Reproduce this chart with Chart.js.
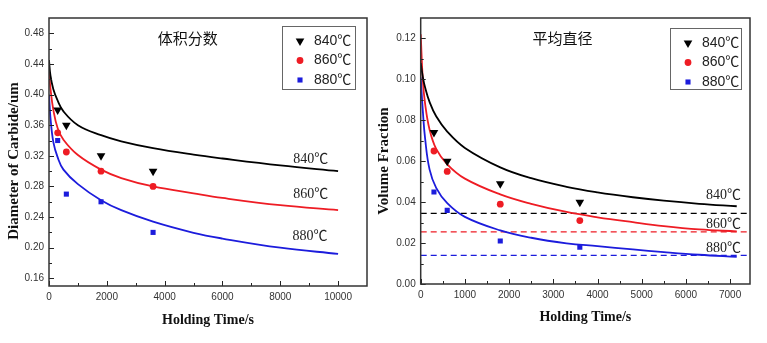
<!DOCTYPE html>
<html>
<head>
<meta charset="utf-8">
<script src="https://cdn.jsdelivr.net/npm/chart.js@4.4.1/dist/chart.umd.min.js"></script>
<style>
  html, body { margin: 0; padding: 0; background: #fff; }
  #wrap { position: relative; width: 767px; height: 343px; }
  #wrap canvas { position: absolute; top: 0; }
</style>
</head>
<body>
<div id="wrap">
  <canvas id="diameterChart" width="372" height="343" style="left:0"></canvas>
  <canvas id="fractionChart" width="395" height="343" style="left:372px"></canvas>
</div>
<script>
// temperatures
var tempLabels = ['840℃', '860℃', '880℃'];
var tempColors = ['#000000', '#ee1c24', '#1c1cdc'];
var tempStyles = ['triangle', 'circle', 'rect'];

// measured holding times (s)
var sampleTime = [300, 600, 1800, 3600];

// carbide diameter (um)
var dia840 = [0.38, 0.36, 0.32, 0.30];
var dia860 = [0.35, 0.325, 0.30, 0.28];
var dia880 = [0.34, 0.27, 0.26, 0.22];

// fitted diameter curves
var diaFitTime = [0, 50, 150, 300, 500, 1000, 1800, 2500, 3600, 5000, 6000, 8000, 10000];
var diaFit840 = [0.445, 0.425, 0.407, 0.392, 0.378, 0.360, 0.347, 0.339, 0.330, 0.3215, 0.3165, 0.3075, 0.300];
var diaFit860 = [0.430, 0.408, 0.380, 0.356, 0.341, 0.321, 0.302, 0.291, 0.280, 0.271, 0.265, 0.2555, 0.249];
var diaFit880 = [0.400, 0.370, 0.338, 0.318, 0.302, 0.283, 0.262, 0.249, 0.234, 0.2195, 0.212, 0.200, 0.192];

// carbide volume fraction
var vf840 = [0.074, 0.060, 0.049, 0.040];
var vf860 = [0.065, 0.055, 0.039, 0.031];
var vf880 = [0.045, 0.036, 0.021, 0.018];

// fitted volume fraction curves
var vfFitTime = [0, 50, 100, 200, 350, 600, 1000, 1800, 2500, 3300, 4000, 4800, 5500, 6300, 7150];
var vfFit840 = [0.108, 0.101, 0.096, 0.089, 0.082, 0.0745, 0.0665, 0.057, 0.0517, 0.0475, 0.0448, 0.0424, 0.0407, 0.0392, 0.038];
var vfFit860 = [0.122, 0.099, 0.088, 0.0755, 0.066, 0.0585, 0.0515, 0.0438, 0.0392, 0.0352, 0.0326, 0.0302, 0.0283, 0.0267, 0.0257];
var vfFit880 = [0.101, 0.084, 0.071, 0.056, 0.047, 0.0395, 0.0328, 0.0262, 0.0226, 0.0199, 0.0185, 0.0169, 0.0156, 0.0143, 0.0133];

// equilibrium volume fraction levels
var vfLevels = [0.0345, 0.0255, 0.014];

// tick values
var diaXTicks = [0, 2000, 4000, 6000, 8000, 10000];
var diaXMinor = [1000, 3000, 5000, 7000, 9000];
var diaYTicks = [0.16, 0.20, 0.24, 0.28, 0.32, 0.36, 0.40, 0.44, 0.48];
var diaYMinor = [0.18, 0.22, 0.26, 0.30, 0.34, 0.38, 0.42, 0.46];
var vfXTicks = [0, 1000, 2000, 3000, 4000, 5000, 6000, 7000];
var vfXMinor = [500, 1500, 2500, 3500, 4500, 5500, 6500];
var vfYTicks = [0.00, 0.02, 0.04, 0.06, 0.08, 0.10, 0.12];
var vfYMinor = [0.01, 0.03, 0.05, 0.07, 0.09, 0.11];

function toPoints(xs, ys) {
    return xs.map(function(x, i) { return { x: x, y: ys[i] }; });
}

function sampleSet(values, i) {
    return {
        label: tempLabels[i],
        data: toPoints(sampleTime, values),
        showLine: false,
        pointStyle: tempStyles[i],
        pointRotation: i === 0 ? 180 : 0,
        pointRadius: i === 0 ? 5 : (i === 2 ? 3.6 : 3.4),
        pointBackgroundColor: tempColors[i],
        pointBorderWidth: 0,
        order: 0
    };
}

function fitSet(xs, values, i) {
    return {
        data: toPoints(xs, values),
        borderColor: tempColors[i],
        borderWidth: 1.8,
        pointRadius: 0,
        tension: 0.4,
        order: 1
    };
}

// draws a point marker the same way the datasets do
function marker(ctx, i, x, y) {
    ctx.fillStyle = tempColors[i];
    Chart.helpers.drawPoint(ctx, {
        pointStyle: tempStyles[i],
        rotation: i === 0 ? 180 : 0,
        radius: i === 0 ? 5 : (i === 2 ? 3.6 : 3.4),
        borderWidth: 0
    }, x, y);
}

// frame, inward ticks, titles, curve labels and legend box
var decorations = {
    id: 'decorations',
    afterDatasetsDraw: function(chart, args, opts) {
        var ctx = chart.ctx;
        var a = chart.chartArea;
        var x = chart.scales.x;
        var y = chart.scales.y;
        ctx.save();

        ctx.strokeStyle = '#222';
        ctx.lineWidth = 1;
        ctx.beginPath();
        function xt(v, len) {
            var px = Math.round(x.getPixelForValue(v)) + 0.5;
            ctx.moveTo(px, a.bottom);
            ctx.lineTo(px, a.bottom - len);
        }
        function yt(v, len) {
            var py = Math.round(y.getPixelForValue(v)) + 0.5;
            ctx.moveTo(a.left, py);
            ctx.lineTo(a.left + len, py);
        }
        opts.xMajor.forEach(function(v) { xt(v, 5); });
        opts.xMinor.forEach(function(v) { xt(v, 3); });
        opts.yMajor.forEach(function(v) { yt(v, 5); });
        opts.yMinor.forEach(function(v) { yt(v, 3); });
        ctx.stroke();

        ctx.lineWidth = 1.5;
        ctx.strokeStyle = '#333';
        ctx.strokeRect(a.left, a.top, a.right - a.left, a.bottom - a.top);

        // chart title
        ctx.fillStyle = '#111';
        ctx.font = '15px "Noto Sans CJK SC"';
        ctx.textAlign = 'center';
        ctx.textBaseline = 'middle';
        ctx.fillText(opts.title, x.getPixelForValue(opts.titleX), a.top + 20);

        // axis titles
        ctx.font = 'bold 14px "Liberation Serif"';
        ctx.fillText('Holding Time/s', (a.left + a.right) / 2, opts.xTitleY);
        ctx.save();
        ctx.translate(opts.yTitleX, 161);
        ctx.rotate(-Math.PI / 2);
        ctx.font = 'bold 15px "Liberation Serif"';
        ctx.fillText(opts.yTitle, 0, 0);
        ctx.restore();

        // curve labels
        ctx.font = '14px "Liberation Serif", "Noto Sans CJK SC"';
        ctx.fillStyle = '#222';
        opts.curveLabels.forEach(function(l, i) {
            ctx.fillText(tempLabels[i], x.getPixelForValue(l[0]), y.getPixelForValue(l[1]));
        });

        // legend
        var bx = a.right - opts.legendRight - opts.legendW;
        var by = a.top + opts.legendTop;
        ctx.fillStyle = '#fff';
        ctx.fillRect(bx, by, opts.legendW, opts.legendH);
        ctx.lineWidth = 1;
        ctx.strokeStyle = '#666';
        ctx.strokeRect(bx + 0.5, by + 0.5, opts.legendW, opts.legendH);
        ctx.font = '14px "Liberation Sans", "Noto Sans CJK SC"';
        ctx.textAlign = 'left';
        tempLabels.forEach(function(t, i) {
            var ry = by + 15 + i * 19.5;
            marker(ctx, i, bx + 18, ry);
            ctx.fillStyle = '#222';
            ctx.fillText(t, bx + 32, ry);
        });

        ctx.restore();
    }
};

function axisOptions(min, max, ticks, width, isY) {
    return {
        type: 'linear',
        min: min,
        max: max,
        grid: { display: false, drawTicks: false },
        border: { display: false },
        ticks: {
            padding: 5,
            color: '#333',
            font: { family: 'Liberation Sans', size: 10 },
            callback: function(v) { return isY ? v.toFixed(2) : String(v); }
        },
        afterBuildTicks: function(scale) {
            scale.ticks = ticks.map(function(v) { return { value: v }; });
        },
        afterFit: function(scale) {
            if (isY) { scale.width = width; } else { scale.height = width; }
        }
    };
}

Chart.defaults.animation = false;
Chart.defaults.responsive = false;

var ctxDiameter = document.getElementById('diameterChart');
new Chart(ctxDiameter, {
    type: 'line',
    data: {
        datasets: [
            sampleSet(dia840, 0), sampleSet(dia860, 1), sampleSet(dia880, 2),
            fitSet(diaFitTime, diaFit840, 0), fitSet(diaFitTime, diaFit860, 1), fitSet(diaFitTime, diaFit880, 2)
        ]
    },
    options: {
        layout: { padding: { top: 18, right: 3, bottom: 15, left: 0 } },
        plugins: {
            legend: { display: false },
            tooltip: { enabled: false },
            decorations: {
                xMajor: diaXTicks, xMinor: diaXMinor, yMajor: diaYTicks, yMinor: diaYMinor,
                title: '体积分数', titleX: 4800,
                yTitle: 'Diameter of Carbide/um', yTitleX: 14,
                xTitleY: 320,
                curveLabels: [[9050, 0.316], [9050, 0.270], [9030, 0.215]],
                legendRight: 12, legendTop: 8, legendW: 73, legendH: 63
            }
        },
        scales: {
            x: axisOptions(0, 11000, diaXTicks, 42, false),
            y: axisOptions(0.15, 0.50, diaYTicks, 49, true)
        }
    },
    plugins: [decorations]
});

var ctxFraction = document.getElementById('fractionChart');
var levelSets = vfLevels.map(function(v, i) {
    return {
        data: [{ x: 0, y: v }, { x: 7450, y: v }],
        borderColor: tempColors[i],
        borderWidth: 1.3,
        borderDash: [6, 4],
        pointRadius: 0,
        order: 2
    };
});
new Chart(ctxFraction, {
    type: 'line',
    data: {
        datasets: [
            sampleSet(vf840, 0), sampleSet(vf860, 1), sampleSet(vf880, 2),
            fitSet(vfFitTime, vfFit840, 0), fitSet(vfFitTime, vfFit860, 1), fitSet(vfFitTime, vfFit880, 2)
        ].concat(levelSets)
    },
    options: {
        layout: { padding: { top: 18, right: 17, bottom: 18, left: 0 } },
        plugins: {
            legend: { display: false },
            tooltip: { enabled: false },
            decorations: {
                xMajor: vfXTicks, xMinor: vfXMinor, yMajor: vfYTicks, yMinor: vfYMinor,
                title: '平均直径', titleX: 3210,
                yTitle: 'Volume Fraction', yTitleX: 12,
                xTitleY: 317,
                curveLabels: [[6850, 0.0432], [6850, 0.0293], [6850, 0.0176]],
                legendRight: 9, legendTop: 10, legendW: 71, legendH: 61
            }
        },
        scales: {
            x: axisOptions(0, 7450, vfXTicks, 41, false),
            y: axisOptions(0, 0.13, vfYTicks, 48.7, true)
        }
    },
    plugins: [decorations]
});
</script>
</body>
</html>
